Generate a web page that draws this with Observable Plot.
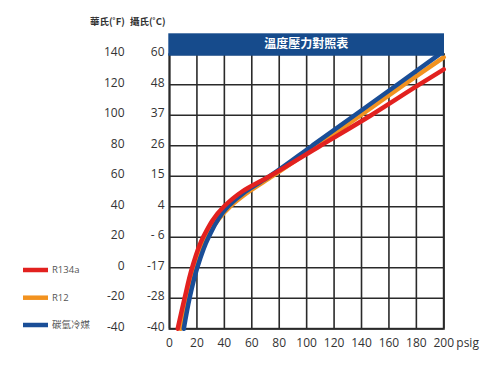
<!DOCTYPE html>
<html>
<head>
<meta charset="utf-8">
<script src="https://cdn.jsdelivr.net/npm/d3@7"></script>
<script src="https://cdn.jsdelivr.net/npm/@observablehq/plot@0.6"></script>
<style>
  html, body { margin: 0; padding: 0; background: #fff; }
  #chart { position: relative; width: 500px; height: 368px; }
</style>
</head>
<body>
<div id="chart"></div>
<script>
// ---- data ----
const chartTitle = "溫度壓力對照表";
const fHeader = "華氏(˚F)";
const cHeader = "攝氏(˚C)";
const xUnit = "psig";
const pressureTicks = [0, 20, 40, 60, 80, 100, 120, 140, 160, 180, 200];
const fTicks = [-40, -20, 0, 20, 40, 60, 80, 100, 120, 140];
const cLabels = ["-40", "-28", "-17", "- 6", "4", "15", "26", "37", "48", "60"];
const series = ["R134a", "R12", "碳氫冷媒"];
const colors = ["#e2211f", "#f2921f", "#1a4e97"];

// pressure (psig) vs temperature (°F)
const r134aPsig = [6, 11, 16.5, 24.5, 39.5, 53, 73, 110, 147, 182, 200];
const r134aTemp = [-40, -20, 0, 20, 40, 50, 60, 80, 100, 120, 130];
const r12Psig = [8, 12.6, 18.5, 27, 44, 58, 75, 107.5, 139.5, 171, 200];
const r12Temp = [-40, -20, 0, 20, 40, 50, 60, 80, 100, 120, 138];
const hcPsig = [10.4, 14.6, 20.2, 28.5, 42.5, 55.5, 73, 104, 135, 166, 197];
const hcTemp = [-40, -20, 0, 20, 40, 50, 60, 80, 100, 120, 140];

// drawing order: R12, 碳氫冷媒, R134a
const rows = [];
const add = (name, ps, ts) => ps.forEach((p, i) => rows.push({series: name, p, t: ts[i]}));
add(series[1], r12Psig, r12Temp);
add(series[2], hcPsig, hcTemp);
add(series[0], r134aPsig, r134aTemp);

const gridColor = "#2a2a2a";
const font = "'Open Sans', 'Noto Sans CJK TC', sans-serif";

const chart = Plot.plot({
  width: 500,
  height: 368,
  marginLeft: 169,
  marginRight: 56.7,
  marginTop: 53.7,
  marginBottom: 39.7,
  style: {fontFamily: font, fontSize: "12px", color: "#333", background: "#fff", overflow: "visible"},
  x: {domain: [0, 200]},
  y: {domain: [-40, 140]},
  color: {domain: series, range: colors},
  marks: [
    Plot.gridX(pressureTicks, {stroke: gridColor, strokeOpacity: 1, strokeWidth: 1.6}),
    Plot.gridY(fTicks, {stroke: gridColor, strokeOpacity: 1, strokeWidth: 1.6}),
    Plot.frame({stroke: gridColor, strokeWidth: 2}),
    Plot.line(rows, {x: "p", y: "t", z: "series", stroke: d => d.series, strokeWidth: 4.5, curve: "monotone-y"}),
    Plot.axisX(pressureTicks, {tickSize: 0, tickPadding: 10, label: null, tickFormat: d => String(d)}),
    Plot.axisY(fTicks, {tickSize: 0, tickPadding: 45, label: null, dy: -2, tickFormat: d => String(d)}),
    Plot.axisY(fTicks, {tickSize: 0, tickPadding: 5, label: null, dy: -2,
      tickFormat: d => cLabels[fTicks.indexOf(d)]})
  ]
});

document.getElementById("chart").appendChild(chart);

const xs = chart.scale("x");
const ys = chart.scale("y");
const svg = d3.select(chart);

// title bar
const x0 = xs.apply(0) - 0.7, x1 = xs.apply(200) + 0.7;
const yTop = ys.apply(140);
svg.append("rect")
  .attr("x", x0).attr("y", yTop - 20.4)
  .attr("width", x1 - x0).attr("height", 22.4)
  .attr("fill", "#164b8c");
svg.append("text")
  .attr("x", (x0 + x1) / 2).attr("y", yTop - 9)
  .attr("text-anchor", "middle").attr("dominant-baseline", "middle")
  .attr("fill", "#fff").attr("font-weight", "bold").attr("font-size", 12)
  .attr("font-family", "'Noto Sans CJK TC', sans-serif")
  .text(chartTitle);

// column headers
const header = (x, t) => svg.append("text").attr("x", x).attr("y", 22)
  .attr("text-anchor", "start").attr("dominant-baseline", "middle")
  .attr("font-size", 9.5).attr("font-weight", 600).attr("fill", "#333")
  .attr("font-family", "'Noto Sans CJK TC', sans-serif").text(t);
header(90, fHeader);
header(130, cHeader);

// unit label
svg.append("text").attr("x", xs.apply(200) + 13).attr("y", 343.5)
  .attr("text-anchor", "start").attr("dominant-baseline", "middle")
  .attr("font-size", 12).attr("fill", "#333")
  .attr("font-family", font).text(xUnit);

// legend
const legendY = [270, 297.7, 325];
series.forEach((s, i) => {
  svg.append("line").attr("x1", 23).attr("x2", 48)
    .attr("y1", legendY[i]).attr("y2", legendY[i])
    .attr("stroke", colors[i]).attr("stroke-width", 4.5);
  svg.append("text").attr("x", 52).attr("y", legendY[i] + 0.5)
    .attr("text-anchor", "start").attr("dominant-baseline", "middle")
    .attr("font-size", 9.5).attr("fill", "#555")
    .attr("font-family", "'Open Sans', 'Noto Sans CJK TC', sans-serif").text(s);
});
</script>
</body>
</html>
